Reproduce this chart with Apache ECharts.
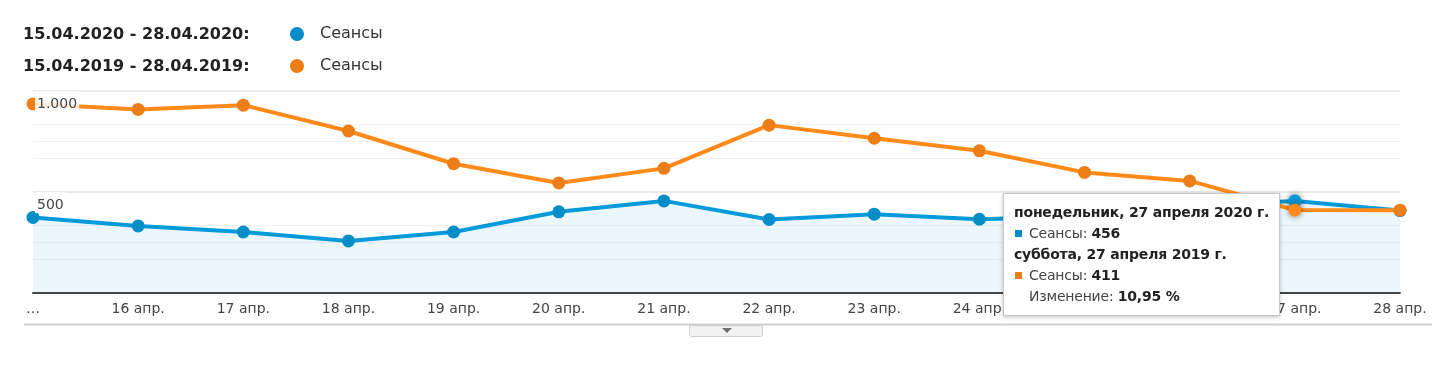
<!DOCTYPE html>
<html>
<head>
<meta charset="utf-8">
<script src="https://cdn.jsdelivr.net/npm/echarts@6/dist/echarts.min.js"></script>
<style>
html,body{margin:0;padding:0;background:#fff;}
#chart{width:1432px;height:366px;}
</style>
</head>
<body>
<div id="chart"></div>
<script>
// ---- data ----
const xTickLabels = ['…','16 апр.','17 апр.','18 апр.','19 апр.','20 апр.','21 апр.','22 апр.','23 апр.','24 апр.','25 апр.','26 апр.','27 апр.','28 апр.'];
const dayNumbers = [15,16,17,18,19,20,21,22,23,24,25,26,27,28];
const sessions2020 = [374, 332, 302, 258, 302, 402, 456, 364, 390, 365, 380, 430, 456, 408];
const sessions2019 = [936, 909, 930, 802, 640, 545, 617, 831, 766, 704, 597, 555, 411, 410];
const rangeLabels = ['15.04.2020 - 28.04.2020:', '15.04.2019 - 28.04.2019:'];
const years = [2020, 2019];
const seriesLabel = 'Сеансы';
const changeLabel = 'Изменение';
const yTickValues = [0, 500, 1000];
const yTickTexts = ['', '500', '1.000'];
const minorGridValues = [167, 250, 333, 667, 750, 833];
const weekdays = ['воскресенье','понедельник','вторник','среда','четверг','пятница','суббота'];
const monthGenitive = 'апреля';
const tooltipIndex = 12;

const BLUE = '#058dc7', ORANGE = '#ed7e17';
const FONT = 'DejaVu Sans';

const chart = echarts.init(document.getElementById('chart'), null, {renderer: 'canvas'});

function dateTitle(year, idx) {
  const d = new Date(year, 3, dayNumbers[idx]);
  return weekdays[d.getDay()] + ', ' + dayNumbers[idx] + ' ' + monthGenitive + ' ' + year + ' г.';
}

const option = {
  animation: false,
  textStyle: {fontFamily: FONT},
  grid: {left: 33, right: 32, top: 91, bottom: 73, containLabel: false, outerBoundsMode: 'none'},
  legend: {
    left: 285, top: 21, orient: 'vertical', itemGap: 16,
    itemWidth: 14, itemHeight: 14, icon: 'circle', selectedMode: false,
    data: [String(years[0]), String(years[1])],
    formatter: function () { return seriesLabel; },
    textStyle: {fontFamily: FONT, fontSize: 16, color: '#333', padding: [0, 0, 0, 11]}
  },
  graphic: [
    {type: 'text', left: 23, top: 27, style: {text: rangeLabels[0], font: 'bold 16px "DejaVu Sans"', fill: '#222'}},
    {type: 'text', left: 23, top: 59, style: {text: rangeLabels[1], font: 'bold 16px "DejaVu Sans"', fill: '#222'}},
    {type: 'line', shape: {x1: 24, y1: 324.5, x2: 1432, y2: 324.5}, style: {stroke: '#d0d0d0', lineWidth: 2}},
    {type: 'rect', shape: {x: 689.5, y: 325.5, width: 73, height: 11, r: [0, 0, 2, 2]},
      style: {fill: '#f1f1f1', stroke: '#cfcfcf', lineWidth: 1}},
    {type: 'polygon', shape: {points: [[722, 328], [732, 328], [727, 333]]}, style: {fill: '#707070'}}
  ],
  tooltip: {
    trigger: 'axis',
    alwaysShowContent: true,
    showContent: true,
    transitionDuration: 0,
    axisPointer: {type: 'none'},
    position: function () { return [1003, 193]; },
    backgroundColor: '#fff',
    borderColor: '#c8c8c8',
    borderWidth: 1,
    padding: [8, 10, 8, 10],
    extraCssText: 'border-radius:0;box-shadow:0 1px 4px rgba(0,0,0,0.25);',
    formatter: function (params) {
      const i = params[0].dataIndex;
      const a = sessions2020[i], b = sessions2019[i];
      const ch = ((a - b) / b * 100).toFixed(2).replace('.', ',') + ' %';
      const sq = c => '<span style="display:inline-block;width:7px;height:7px;background:' + c + ';margin:0 7px 1px 1px;"></span>';
      const st = 'font-family:DejaVu Sans;font-size:14px;line-height:21px;color:#222;letter-spacing:-0.2px;';
      return '<div style="' + st + '">' +
        '<div style="font-weight:bold">' + dateTitle(years[0], i) + '</div>' +
        '<div>' + sq(BLUE) + '<span style="color:#444">' + seriesLabel + ': </span><b>' + a + '</b></div>' +
        '<div style="font-weight:bold">' + dateTitle(years[1], i) + '</div>' +
        '<div>' + sq(ORANGE) + '<span style="color:#444">' + seriesLabel + ': </span><b>' + b + '</b></div>' +
        '<div style="padding-left:15px"><span style="color:#444">' + changeLabel + ': </span><b>' + ch + '</b></div>' +
        '</div>';
    }
  },
  xAxis: {
    type: 'category',
    boundaryGap: false,
    data: xTickLabels,
    axisLine: {show: true, lineStyle: {color: '#444', width: 2}},
    axisTick: {show: false},
    axisLabel: {fontFamily: FONT, fontSize: 14, color: '#444', margin: 9, interval: 0},
    splitLine: {show: false}
  },
  yAxis: [
    {
      type: 'value', min: 0, max: 1000, interval: 500, position: 'left',
      axisLine: {show: false}, axisTick: {show: false}, axisLabel: {show: false},
      splitLine: {show: true, lineStyle: {color: '#ebebeb', width: 2}}
    },
    {
      type: 'value', min: 0, max: 1000, interval: 500, z: 10, position: 'left', offset: 0,
      axisLine: {show: false}, axisTick: {show: false},
      splitLine: {show: false},
      axisLabel: {
        inside: true, margin: 2, verticalAlign: 'top', align: 'left',
        showMinLabel: false,
        fontFamily: FONT, fontSize: 14, color: '#444',
        padding: [6, 2, 1, 2],
        backgroundColor: 'rgba(255,255,255,0.85)',
        formatter: function (v) {
          const k = yTickValues.indexOf(v);
          return k >= 0 ? yTickTexts[k] : '';
        }
      }
    }
  ],
  series: [
    {
      name: String(years[0]), type: 'line', data: sessions2020,
      symbol: 'circle', symbolSize: 13, showAllSymbol: true,
      lineStyle: {color: BLUE, width: 4},
      itemStyle: {color: BLUE},
      areaStyle: {color: 'rgba(5,141,199,0.11)'},
      emphasis: {scale: false, focus: 'none', lineStyle: {width: 4},
        itemStyle: {shadowBlur: 6, shadowColor: 'rgba(0,0,0,0.55)'}},
      markLine: {
        silent: true, symbol: 'none', label: {show: false},
        lineStyle: {color: '#f0f0f0', width: 1, type: 'solid'},
        data: minorGridValues.map(v => ({yAxis: v})),
        z: 0
      },
      z: 2
    },
    {
      name: String(years[1]), type: 'line', data: sessions2019,
      symbol: 'circle', symbolSize: 13, showAllSymbol: true,
      lineStyle: {color: ORANGE, width: 4},
      itemStyle: {color: ORANGE},
      emphasis: {scale: false, focus: 'none', lineStyle: {width: 4},
        itemStyle: {shadowBlur: 6, shadowColor: 'rgba(0,0,0,0.55)'}},
      z: 3
    }
  ]
};

chart.setOption(option);
chart.dispatchAction({type: 'showTip', seriesIndex: 0, dataIndex: tooltipIndex});
</script>
</body>
</html>
